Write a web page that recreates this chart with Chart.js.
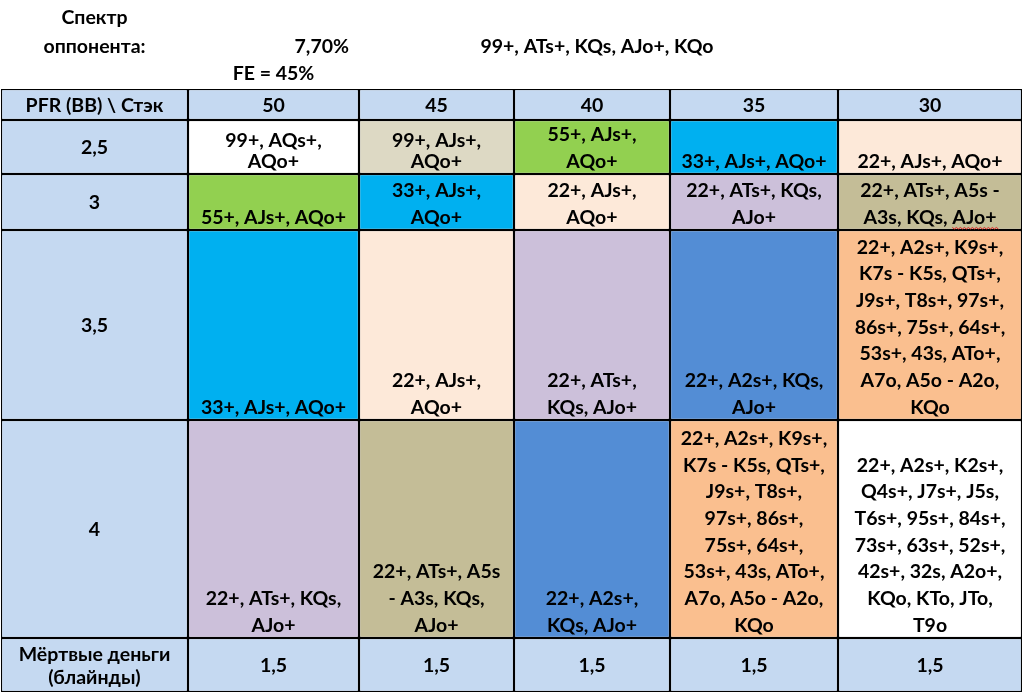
<!DOCTYPE html>
<html>
<head>
<meta charset="utf-8">
<script src="https://cdn.jsdelivr.net/npm/chart.js@4.4.0/dist/chart.umd.min.js"></script>
<style>
  body{margin:0;background:#fff;}
</style>
</head>
<body>
<canvas id="tableChart" width="1026" height="693"></canvas>
<script>
// table content
const stacks = ['50', '45', '40', '35', '30'];
const pfrLabels = ['2,5', '3', '3,5', '4'];
const deadMoney = ['1,5', '1,5', '1,5', '1,5', '1,5'];
const cornerLabel = 'PFR (BB) \\ Стэк';
const deadLabel = 'Мёртвые деньги\n(блайнды)';
const opponentLabel = 'Спектр\nоппонента:';
const opponentPct = '7,70%';
const opponentRange = '99+, ATs+, KQs, AJo+, KQo';
const foldEquity = 'FE = 45%';

const range25 = ['99+, AQs+,\nAQo+', '99+, AJs+,\nAQo+', '55+, AJs+,\nAQo+', '33+, AJs+, AQo+', '22+, AJs+, AQo+'];
const range3 = ['55+, AJs+, AQo+', '33+, AJs+,\nAQo+', '22+, AJs+,\nAQo+', '22+, ATs+, KQs,\nAJo+', '22+, ATs+, A5s -\nA3s, KQs, AJo+'];
const range35 = ['33+, AJs+, AQo+', '22+, AJs+,\nAQo+', '22+, ATs+,\nKQs, AJo+', '22+, A2s+, KQs,\nAJo+',
  '22+, A2s+, K9s+,\nK7s - K5s, QTs+,\nJ9s+, T8s+, 97s+,\n86s+, 75s+, 64s+,\n53s+, 43s, ATo+,\nA7o, A5o - A2o,\nKQo'];
const range4 = ['22+, ATs+, KQs,\nAJo+', '22+, ATs+, A5s\n- A3s, KQs,\nAJo+', '22+, A2s+,\nKQs, AJo+',
  '22+, A2s+, K9s+,\nK7s - K5s, QTs+,\nJ9s+, T8s+,\n97s+, 86s+,\n75s+, 64s+,\n53s+, 43s, ATo+,\nA7o, A5o - A2o,\nKQo',
  '22+, A2s+, K2s+,\nQ4s+, J7s+, J5s,\nT6s+, 95s+, 84s+,\n73s+, 63s+, 52s+,\n42s+, 32s, A2o+,\nKQo, KTo, JTo,\nT9o'];

// cell shading per row (names -> palette below)
const shade25 = ['white', 'stone', 'green', 'cyan', 'peach'];
const shade3 = ['green', 'cyan', 'peach', 'lilac', 'olive'];
const shade35 = ['cyan', 'peach', 'lilac', 'blue', 'orange'];
const shade4 = ['lilac', 'olive', 'blue', 'orange', 'white'];

const palette = {
  head: '#C5D9F1', white: '#FFFFFF', stone: '#DDD9C4', green: '#92D050', cyan: '#00B0F0',
  peach: '#FDE9D9', lilac: '#CCC0DA', olive: '#C4BD97', blue: '#538DD5', orange: '#FABF8F'
};

// layout (relative column widths / row heights of the sheet)
const colSpan = [187, 171, 155, 156, 168, 184];
const rowSpan = [31, 54, 56, 190, 218, 54];
const FONT = 'bold 19.5px Lato';

const grid = [
  [cornerLabel, ...stacks],
  [pfrLabels[0], ...range25],
  [pfrLabels[1], ...range3],
  [pfrLabels[2], ...range35],
  [pfrLabels[3], ...range4],
  [deadLabel, ...deadMoney]
];
const shades = [
  Array(6).fill('head'),
  ['head', ...shade25],
  ['head', ...shade3],
  ['head', ...shade35],
  ['head', ...shade4],
  Array(6).fill('head')
];

const colEdges = [0];
colSpan.forEach(w => colEdges.push(colEdges[colEdges.length - 1] + w));
const rowEdges = [0];
rowSpan.forEach(h => rowEdges.push(rowEdges[rowEdges.length - 1] + h));
const colCenters = colSpan.map((w, i) => colEdges[i] + w / 2);
let minGap = Infinity;
for (let i = 1; i < colCenters.length; i++) minGap = Math.min(minGap, colCenters[i] - colCenters[i - 1]);

// one floating-bar dataset per sheet column
const datasets = colSpan.map((w, c) => ({
  label: c === 0 ? 'PFR' : stacks[c - 1],
  data: rowSpan.map((h, r) => ({x: colCenters[c], y: [rowEdges[r], rowEdges[r + 1]]})),
  backgroundColor: shades.map(row => palette[row[c]]),
  borderColor: '#000',
  borderWidth: 1.25,
  borderSkipped: false,
  grouped: false,
  categoryPercentage: 1,
  barPercentage: w / minGap
}));

// spell-check squiggle under a word (as in the sheet screenshot)
function squiggle(ctx, x0, x1, y) {
  ctx.save();
  ctx.strokeStyle = '#E02020';
  ctx.lineWidth = 1;
  ctx.beginPath();
  ctx.moveTo(x0, y);
  for (let x = x0, k = 0; x < x1; x += 2, k++) ctx.lineTo(x + 2, y + (k % 2 ? 0 : 1.5));
  ctx.stroke();
  ctx.restore();
}

const cellText = {
  id: 'cellText',
  afterDatasetsDraw(chart) {
    const {ctx, chartArea} = chart;
    const xs = chart.scales.x;
    ctx.save();
    ctx.fillStyle = '#000';
    ctx.font = FONT;
    ctx.textAlign = 'center';
    ctx.textBaseline = 'middle';
    chart.data.datasets.forEach((ds, c) => {
      chart.getDatasetMeta(c).data.forEach((bar, r) => {
        const lines = grid[r][c].split('\n');
        const top = Math.min(bar.y, bar.base);
        const bottom = Math.max(bar.y, bar.base);
        let lh, y0;
        if (r === 0 || c === 0 || r === rowSpan.length - 1) {
          lh = 23;
          y0 = (top + bottom) / 2 - (lines.length - 1) * lh / 2 + 1;
        } else {
          lh = (r === 1 && c < 3) ? 20.5 : 26.7;
          y0 = bottom - 12.5 - (lines.length - 1) * lh;
        }
        lines.forEach((t, i) => ctx.fillText(t, bar.x, y0 + i * lh));
        // "AJo+" flagged by the spell checker in the 3 / 30 cell
        if (r === 2 && c === 5) {
          const last = lines[lines.length - 1];
          const word = 'AJo+';
          const full = ctx.measureText(last).width;
          const pre = ctx.measureText(last.slice(0, last.lastIndexOf(word))).width;
          const wx = bar.x - full / 2 + pre;
          squiggle(ctx, wx, wx + ctx.measureText(word).width, y0 + (lines.length - 1) * lh + 10);
        }
      });
    });

    // header block above the table
    const top = chartArea.top;
    opponentLabel.split('\n').forEach((t, i) => {
      ctx.fillText(t, xs.getPixelForValue(colCenters[0]), top - 71 + i * 29);
    });
    ctx.textAlign = 'right';
    ctx.fillText(opponentPct, xs.getPixelForValue(colEdges[2] - 10), top - 42);
    ctx.textAlign = 'center';
    ctx.fillText(opponentRange, xs.getPixelForValue(colCenters[3] + 5), top - 42);
    ctx.fillText(foldEquity, xs.getPixelForValue(colCenters[1]), top - 15);
    ctx.restore();
  }
};

new Chart(document.getElementById('tableChart'), {
  type: 'bar',
  data: {datasets},
  options: {
    responsive: false,
    animation: false,
    layout: {padding: {top: 89, left: 1, right: 4, bottom: 1}},
    plugins: {legend: {display: false}, tooltip: {enabled: false}},
    scales: {
      x: {
        type: 'linear', offset: false, min: 0, max: colEdges[colEdges.length - 1], display: false,
        afterBuildTicks: ax => { ax.ticks = colCenters.map(v => ({value: v})); }
      },
      y: {
        type: 'linear', min: 0, max: rowEdges[rowEdges.length - 1], reverse: true, display: false
      }
    }
  },
  plugins: [cellText]
});
</script>
</body>
</html>
